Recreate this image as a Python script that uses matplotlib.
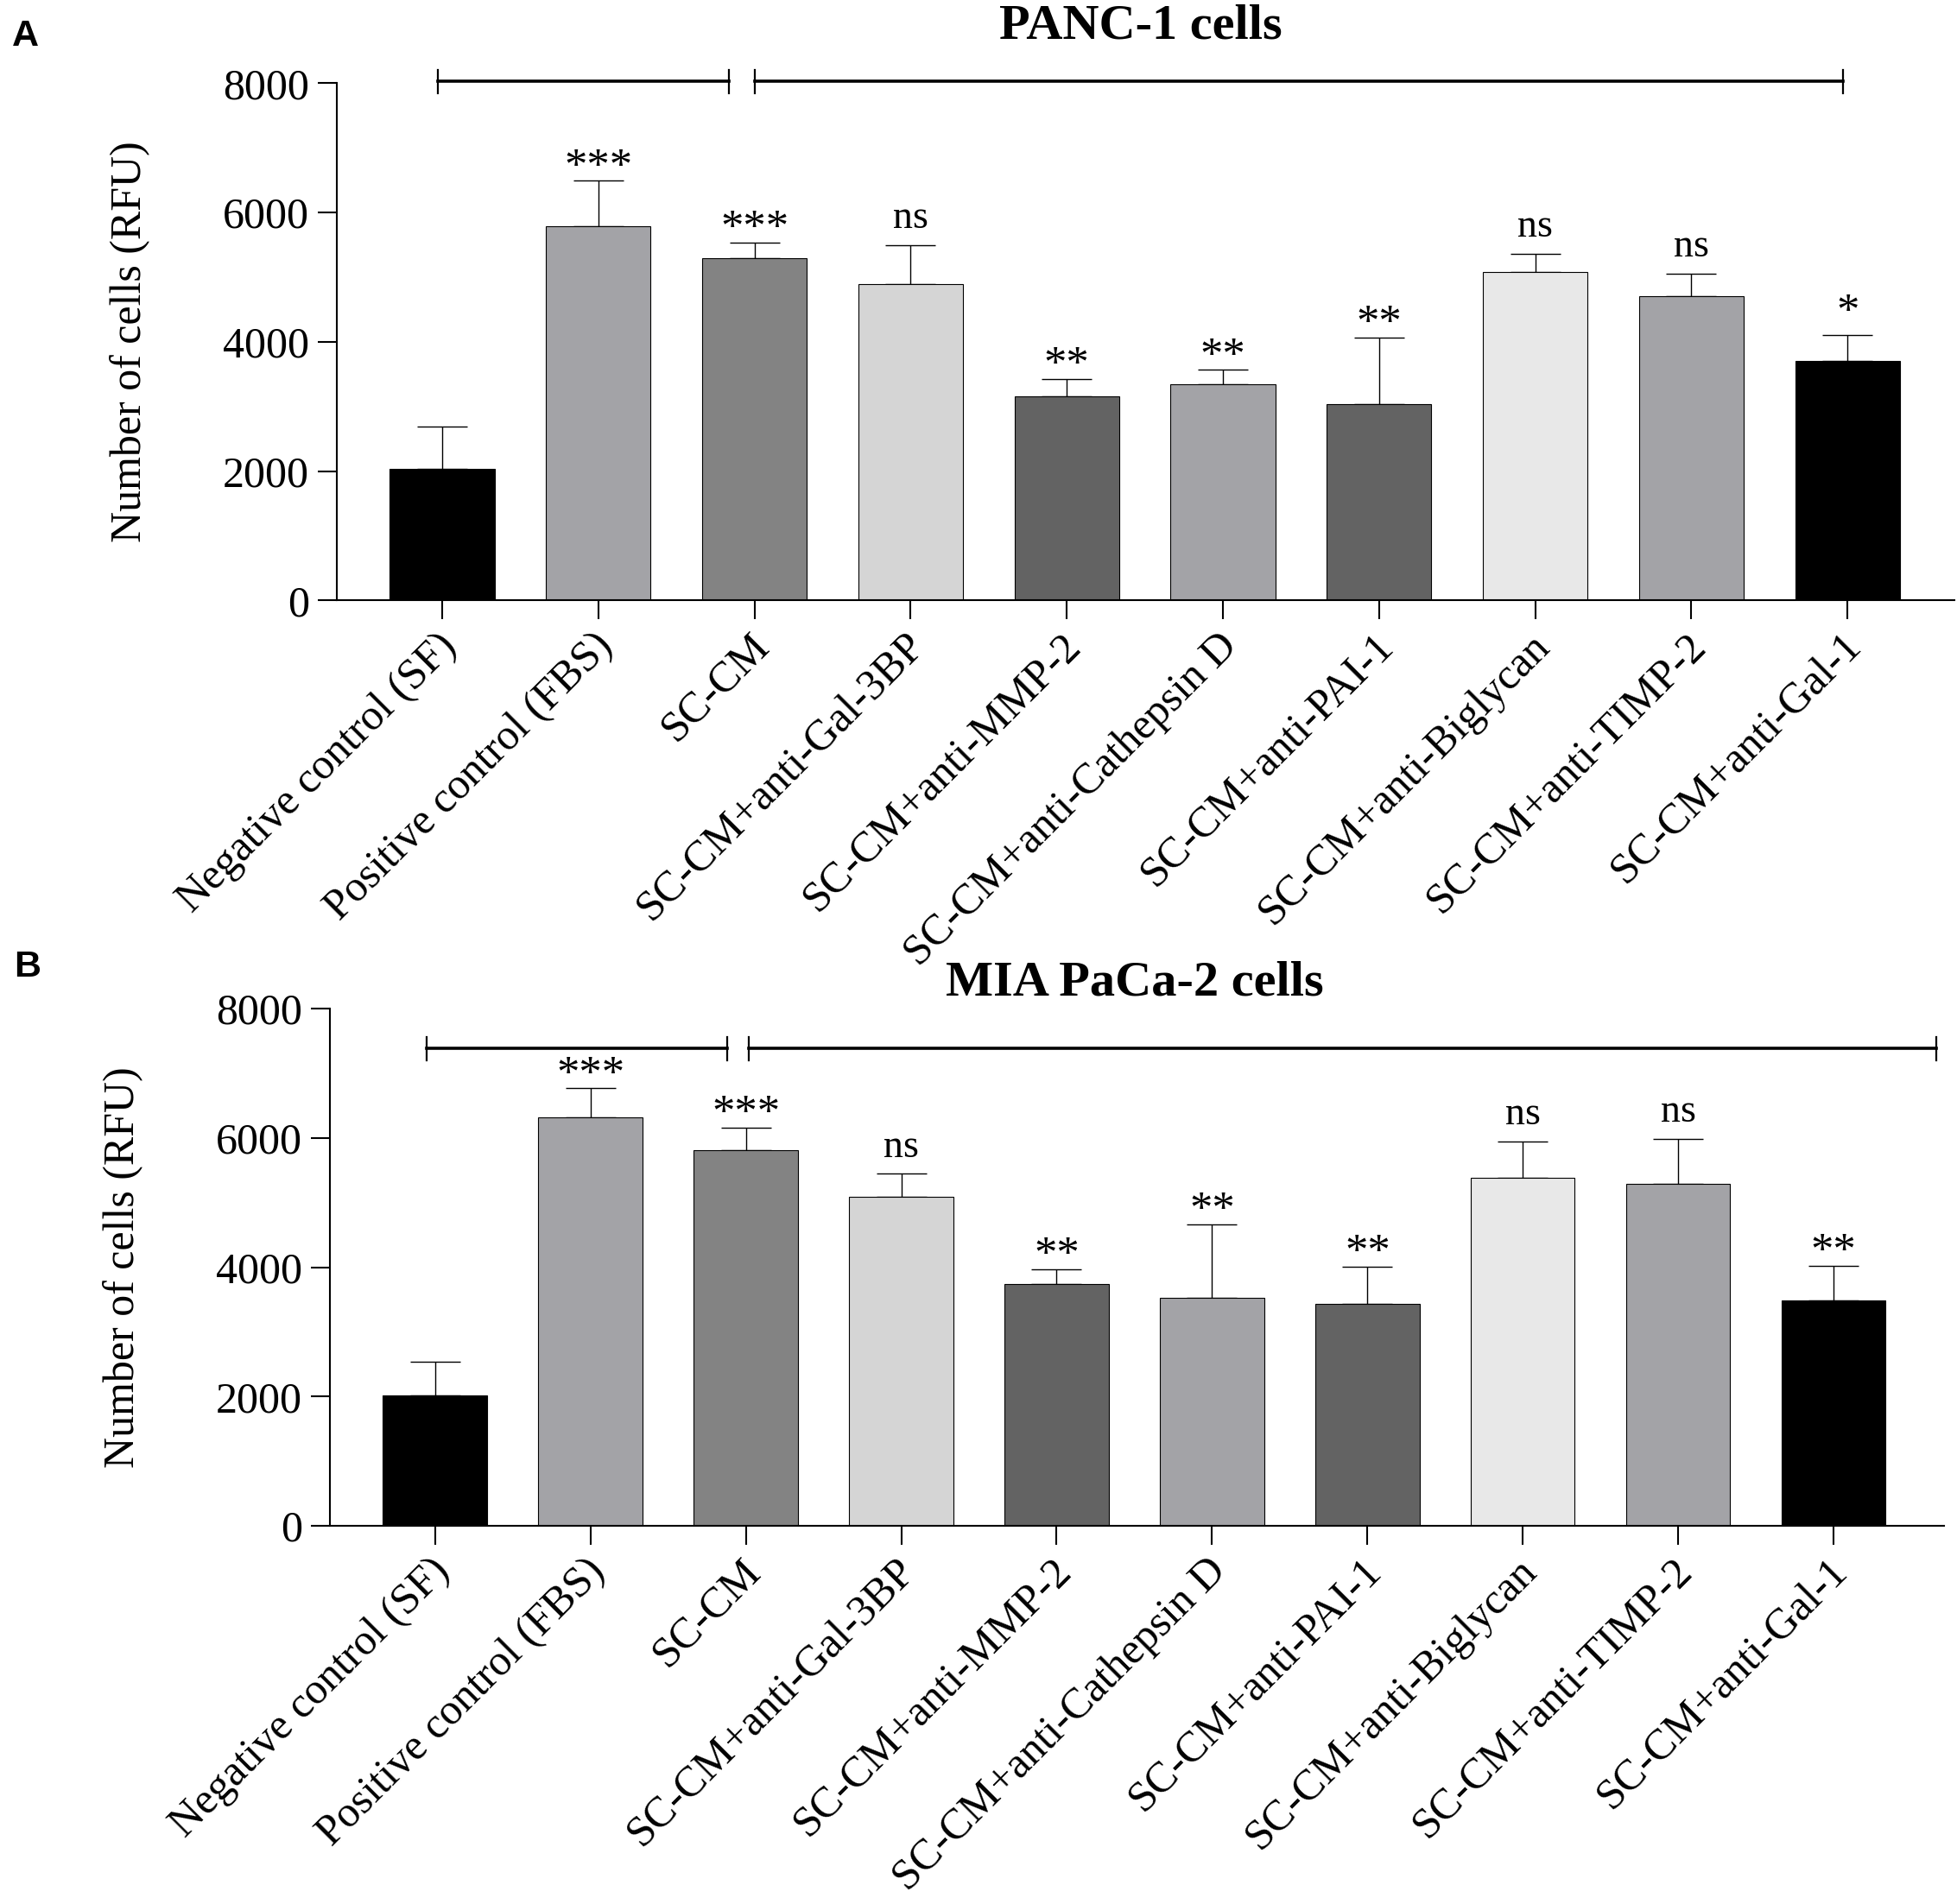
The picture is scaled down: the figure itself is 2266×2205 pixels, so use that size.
import numpy as np
import matplotlib
matplotlib.use('Agg')
import matplotlib.pyplot as plt

plt.rcParams['font.family'] = ['Liberation Serif', 'DejaVu Serif']

groups = ['Negative control (SF)', 'Positive control (FBS)', 'SC-CM',
          'SC-CM+anti-Gal-3BP', 'SC-CM+anti-MMP-2', 'SC-CM+anti-Cathepsin D',
          'SC-CM+anti-PAI-1', 'SC-CM+anti-Biglycan', 'SC-CM+anti-TIMP-2',
          'SC-CM+anti-Gal-1']
bar_colors = ['#000000', '#a3a3a7', '#838383', '#d5d5d5', '#636363',
              '#a3a3a7', '#636363', '#e8e8e8', '#a3a3a7', '#000000']

# PANC-1 cells
panc_mean = [2040, 5790, 5290, 4900, 3160, 3350, 3040, 5075, 4705, 3700]
panc_sd = [650, 700, 250, 600, 270, 215, 1030, 290, 350, 405]
panc_sig = ['', '***', '***', 'ns', '**', '**', '**', 'ns', 'ns', '*']

# MIA PaCa-2 cells
mia_mean = [2015, 6320, 5810, 5095, 3735, 3525, 3430, 5385, 5285, 3485]
mia_sd = [525, 450, 350, 350, 235, 1140, 580, 560, 700, 540]
mia_sig = ['', '***', '***', 'ns', '**', '**', '**', 'ns', 'ns', '**']

W, H = 2266, 2205
fig = plt.figure(figsize=(W/100, H/100), dpi=100)

def panel(rect, mean, sd, sig, title, title_xy, letter, letter_xy,
          xlim, brackets, br_y):
    ax = fig.add_axes(rect)
    x = np.arange(len(groups))
    ax.bar(x, mean, width=0.67, color=bar_colors, edgecolor='black',
           linewidth=0.8, zorder=2)
    ax.errorbar(x, mean, yerr=[np.zeros(len(sd)), sd], fmt='none',
                ecolor='black', elinewidth=1.0, capsize=21, capthick=1.0,
                zorder=1)
    for xi, m, s, lab in zip(x, mean, sd, sig):
        if not lab:
            continue
        if lab == '*':
            off = 9
        elif '*' in lab:
            off = 1
        else:
            off = 14
        ax.annotate(lab, (xi, m + s), xytext=(0, off), textcoords='offset points',
                    ha='center', va='baseline', fontsize=38 if '*' in lab else 33)
    ax.set_xlim(*xlim)
    ax.set_ylim(0, 8000)
    ax.set_yticks([0, 2000, 4000, 6000, 8000])
    ax.set_xticks(x)
    ax.set_xticklabels([])
    # rotated group names, placed by hand under each tick
    for xi, g in zip(x, groups):
        ax.annotate(g, (xi, 0), xycoords=ax.get_xaxis_transform(),
                    xytext=(-5, -21), textcoords='offset points',
                    rotation=45, ha='right', va='top', rotation_mode='anchor',
                    fontsize=36)
    ax.tick_params(axis='y', labelsize=36, length=16, width=1.5, pad=7)
    ax.tick_params(axis='x', length=16, width=1.5)
    for sp in ['top', 'right']:
        ax.spines[sp].set_visible(False)
    for sp in ['left', 'bottom']:
        ax.spines[sp].set_linewidth(1.5)
    ax.set_ylabel('Number of cells (RFU)', fontsize=36)
    ax.yaxis.set_label_coords(-0.115, 0.5)
    for x0, x1 in brackets:
        ax.plot([x0, x1], [br_y, br_y], color='black', lw=2.6, clip_on=False)
        for xe in (x0, x1):
            ax.plot([xe, xe], [br_y - 180, br_y + 180], color='black', lw=1.6,
                    clip_on=False)
    fig.text(title_xy[0], title_xy[1], title, ha='center', va='center',
             fontsize=42, fontweight='bold')
    fig.text(letter_xy[0], letter_xy[1], letter, ha='left', va='top',
             fontsize=31, fontweight='bold', family='Liberation Sans')
    return ax

panel([0.1721, 0.6846, 0.8266, 0.2717], panc_mean, panc_sd, panc_sig,
      'PANC-1 cells', (0.583, 0.986), 'A', (14/W, 1 - 22/H),
      (-0.675, 9.685), [(-0.03, 1.836), (2.0, 8.97)], 8030)
panel([0.1684, 0.1986, 0.8249, 0.2717], mia_mean, mia_sd, mia_sig,
      'MIA PaCa-2 cells', (0.580, 0.4835), 'B', (16/W, 1 - 1100/H),
      (-0.679, 9.71), [(-0.056, 1.878), (2.02, 9.66)], 7381)

fig.savefig('out.png', dpi=100)
